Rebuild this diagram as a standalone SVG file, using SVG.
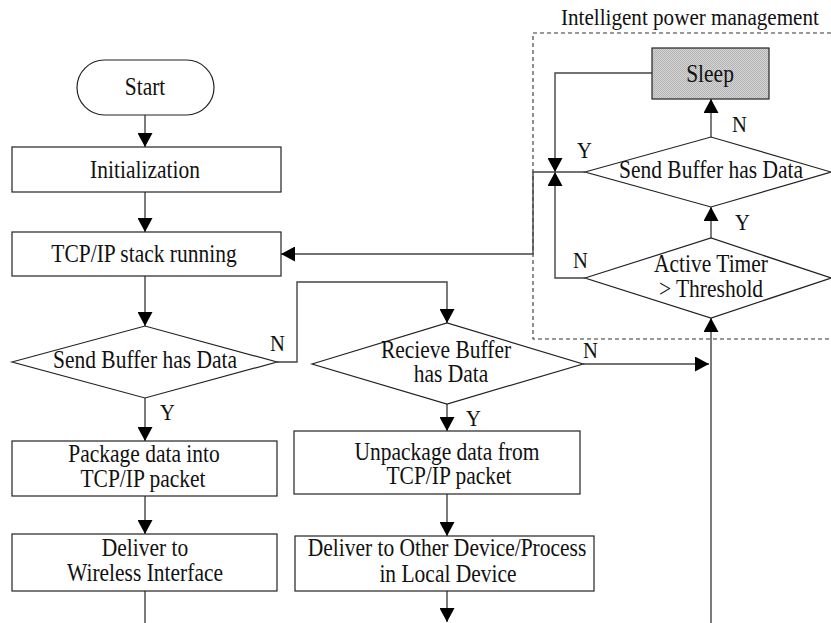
<svg xmlns="http://www.w3.org/2000/svg" width="831" height="623" viewBox="0 0 831 623">
  <defs>
    <marker id="arrow" markerUnits="userSpaceOnUse" markerWidth="14" markerHeight="15" refX="14" refY="7.5" orient="auto">
      <path d="M0,0 L14,7.5 L0,15 z" fill="#000"/>
    </marker>
    <pattern id="dots" width="2" height="2" patternUnits="userSpaceOnUse">
      <rect width="2" height="2" fill="#d6d6d6"/>
      <rect width="1" height="1" fill="#b2b2b2"/>
      <rect x="1" y="1" width="1" height="1" fill="#b2b2b2"/>
    </pattern>
  </defs>
  <style>
    .box { fill: #fff; stroke: #222; stroke-width: 1.2; }
    text { font-family: "Liberation Serif", "Times New Roman", serif; fill: #111; }
    .txt { font-size: 25px; text-anchor: middle; }
    .lbl { font-size: 24px; }
    .c { fill: none; stroke: #444; stroke-width: 1.4; }
    .a { marker-end: url(#arrow); }
    .frame { fill: none; stroke: #333; stroke-width: 1.1; stroke-dasharray: 4 3; }
  </style>
  <rect width="831" height="623" fill="#fff"/>

  <!-- power management region -->
  <g id="power-region">
    <rect class="frame" x="533" y="33" width="310" height="306"/>
    <text class="lbl" transform="translate(561,25) scale(0.88,1)">Intelligent power management</text>
  </g>

  <!-- connectors -->
  <g id="connectors">
    <path class="c a" d="M145,115 V147"/>
    <path class="c a" d="M145,192 V232"/>
    <path class="c a" d="M145,276 V326"/>
    <path class="c a" d="M277,362 H297 V282 H447 V323"/>
    <path class="c a" d="M145,398 V441"/>
    <path class="c a" d="M145,496 V534"/>
    <path class="c" d="M145,591 V623"/>
    <path class="c a" d="M447,404 V431"/>
    <path class="c a" d="M447,494 V536"/>
    <path class="c a" d="M447,591 V622"/>
    <path class="c a" d="M583,364 H709"/>
    <path class="c a" d="M711,623 V318"/>
    <path class="c a" d="M711,238 V207"/>
    <path class="c a" d="M711,137 V99"/>
    <path class="c a" d="M652,73 H555 V172"/>
    <path class="c a" d="M585,278 H555 V172"/>
    <path class="c a" d="M585,172 H533 V254 H281"/>
    <!-- branch labels -->
    <text class="lbl" transform="translate(270,351) scale(0.86,1)">N</text>
    <text class="lbl" transform="translate(160,420) scale(0.86,1)">Y</text>
    <text class="lbl" transform="translate(466,426) scale(0.86,1)">Y</text>
    <text class="lbl" transform="translate(583,358) scale(0.86,1)">N</text>
    <text class="lbl" transform="translate(577,158) scale(0.86,1)">Y</text>
    <text class="lbl" transform="translate(732,132) scale(0.86,1)">N</text>
    <text class="lbl" transform="translate(735,230) scale(0.86,1)">Y</text>
    <text class="lbl" transform="translate(573,268) scale(0.86,1)">N</text>
  </g>

  <g id="start">
    <rect class="box" x="77" y="60" width="137" height="55" rx="27.5"/>
    <text class="txt" transform="translate(145,95) scale(0.86,1)">Start</text>
  </g>

  <g id="init">
    <rect class="box" x="12" y="147" width="269" height="45"/>
    <text class="txt" transform="translate(145,178) scale(0.86,1)">Initialization</text>
  </g>

  <g id="tcp-stack">
    <rect class="box" x="12" y="232" width="269" height="44"/>
    <text class="txt" transform="translate(144,262) scale(0.86,1)">TCP/IP stack running</text>
  </g>

  <g id="send-check">
    <polygon class="box" points="12,362 145,326 277,362 145,398"/>
    <text class="txt" transform="translate(145,368) scale(0.86,1)">Send Buffer has Data</text>
  </g>

  <g id="recv-check">
    <polygon class="box" points="312,364 447,323 583,364 447,404"/>
    <text class="txt" transform="translate(446,358) scale(0.86,1)">Recieve Buffer</text>
    <text class="txt" transform="translate(451,382) scale(0.86,1)">has Data</text>
  </g>

  <g id="package">
    <rect class="box" x="12" y="441" width="265" height="55"/>
    <text class="txt" transform="translate(144,462) scale(0.86,1)">Package data into</text>
    <text class="txt" transform="translate(143,487) scale(0.86,1)">TCP/IP packet</text>
  </g>

  <g id="unpackage">
    <rect class="box" x="294" y="431" width="286" height="63"/>
    <text class="txt" transform="translate(447,460) scale(0.86,1)">Unpackage data from</text>
    <text class="txt" transform="translate(449,484) scale(0.86,1)">TCP/IP packet</text>
  </g>

  <g id="deliver-wireless">
    <rect class="box" x="12" y="534" width="265" height="57"/>
    <text class="txt" transform="translate(145,556) scale(0.86,1)">Deliver to</text>
    <text class="txt" transform="translate(145,581) scale(0.86,1)">Wireless Interface</text>
  </g>

  <g id="deliver-local">
    <rect class="box" x="295" y="536" width="299" height="55"/>
    <text class="txt" transform="translate(447,556) scale(0.86,1)">Deliver to Other Device/Process</text>
    <text class="txt" transform="translate(448,582) scale(0.86,1)">in Local Device</text>
  </g>

  <g id="sleep">
    <rect x="652" y="48" width="117" height="51" fill="url(#dots)" stroke="#222" stroke-width="1.2"/>
    <text class="txt" transform="translate(710,82) scale(0.86,1)">Sleep</text>
  </g>

  <g id="send-check-2">
    <polygon class="box" points="585,172 711,137 831,172 711,207"/>
    <text class="txt" transform="translate(711,178) scale(0.86,1)">Send Buffer has Data</text>
  </g>

  <g id="timer-check">
    <polygon class="box" points="585,278 711,238 831,278 711,318"/>
    <text class="txt" transform="translate(711,272) scale(0.86,1)">Active Timer</text>
    <text class="txt" transform="translate(711,297) scale(0.86,1)">&gt; Threshold</text>
  </g>
</svg>
